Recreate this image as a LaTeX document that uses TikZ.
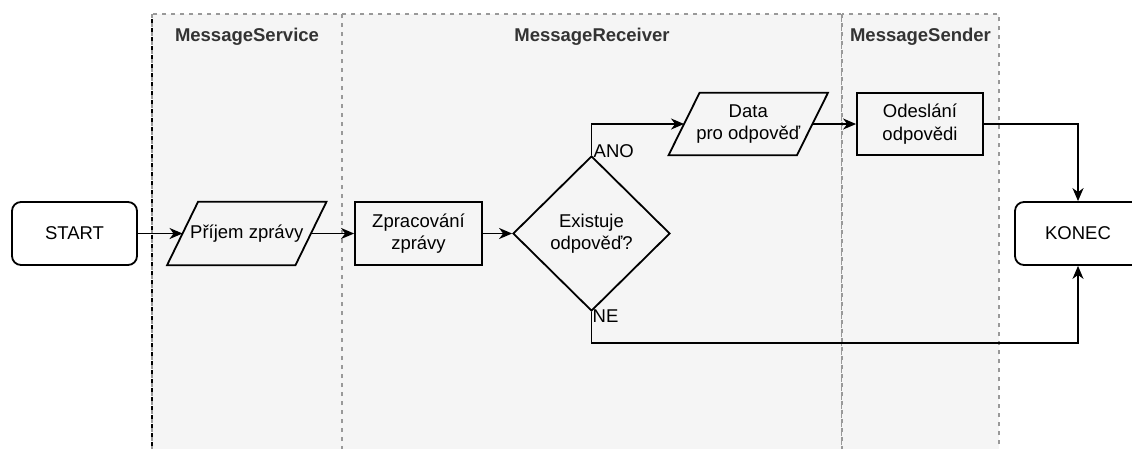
\documentclass[tikz,border=0pt]{standalone}
\usepackage{fontspec}
\setmainfont{Liberation Sans}
\usetikzlibrary{arrows.meta,shapes.geometric}
\definecolor{lanefill}{HTML}{F5F5F5}
\definecolor{lanedash}{HTML}{999999}
\definecolor{titletext}{HTML}{333333}
\begin{document}
\begin{tikzpicture}[x=1pt,y=-1pt,
  every node/.style={font=\fontsize{18.5}{22.5}\selectfont, align=center, inner sep=0pt},
  lane/.style={fill=lanefill, draw=lanedash, line width=1.8pt, dash pattern=on 4pt off 5pt},
  lanetitle/.style={font=\bfseries\fontsize{18.5}{22}\selectfont, text=titletext},
  terminal/.style={draw, line width=1.8pt, rounded corners=9pt, minimum width=125pt, minimum height=63pt},
  process/.style={draw, line width=1.8pt, minimum width=127pt, minimum height=63pt},
  iobox/.style={minimum width=128pt, minimum height=63pt},
  iooutline/.style={draw, line width=1.8pt, line join=miter},
  decision/.style={draw, line width=1.8pt, diamond, shape aspect=1, minimum width=157pt, minimum height=155pt},
  flow/.style={line width=1.8pt, -{Stealth[length=13pt,width=11pt,inset=4pt]}},
  branch/.style={font=\fontsize{18.5}{22}\selectfont}
]
\useasboundingbox (0,0) rectangle (1132,448);

% swimlanes
\path[lane] (152,14) rectangle (342,470);
\path[lane] (342,14) rectangle (842,470);
\path[lane] (842,14) rectangle (999,470);
\draw[line width=1.8pt, dash pattern=on 4pt off 5pt] (152,19) -- (152,470);
\node[lanetitle] (tService)  at (247,37)   {MessageService};
\node[lanetitle] (tReceiver) at (592,37)   {MessageReceiver};
\node[lanetitle] (tSender)   at (920.5,37) {MessageSender};

% flow nodes
\node[terminal] (start) at (74.5,233.5) {START};
\node[iobox] (prijem) at (246.75,233.5) {Příjem zprávy};
\node[process] (zprac) at (418.5,233.5) {Zpracování\\zprávy};
\node[decision] (dia) at (591.5,233.5) {Existuje\\odpověď?};
\node[iobox, minimum height=62pt] (data) at (748.25,124) {Data\\pro odpověď};
\node[process, minimum width=126pt, minimum height=62pt] (odes) at (920,124) {Odeslání\\odpovědi};
\node[terminal, minimum width=126pt] (konec) at (1078,233.5) {KONEC};

% parallelogram outlines
\draw[iooutline] ([xshift=15.5pt]prijem.north west) -- ([xshift=15.5pt]prijem.north east)
  -- ([xshift=-15.5pt]prijem.south east) -- ([xshift=-15.5pt]prijem.south west) -- cycle;
\draw[iooutline] ([xshift=15.5pt]data.north west) -- ([xshift=15.5pt]data.north east)
  -- ([xshift=-15.5pt]data.south east) -- ([xshift=-15.5pt]data.south west) -- cycle;

% connectors
\coordinate (nebend) at (591.5,343);
\draw[flow] (start.east) -- (prijem.west);
\draw[flow] (prijem.east) -- (zprac.west);
\draw[flow] (zprac.east) -- (dia.west);
\draw[flow] (dia.north) |- (data.west);
\draw[flow] (data.east) -- (odes.west);
\draw[flow] (odes.east) -| (konec.north);
\draw[flow] (dia.south) -- (nebend) -| (konec.south);

% branch labels
\node[branch, anchor=south west] (ano) at ([xshift=2pt,yshift=-3pt]dia.north) {ANO};
\node[branch, anchor=north west] (ne) at ([xshift=1pt,yshift=2pt]dia.south) {NE};
\end{tikzpicture}
\end{document}
